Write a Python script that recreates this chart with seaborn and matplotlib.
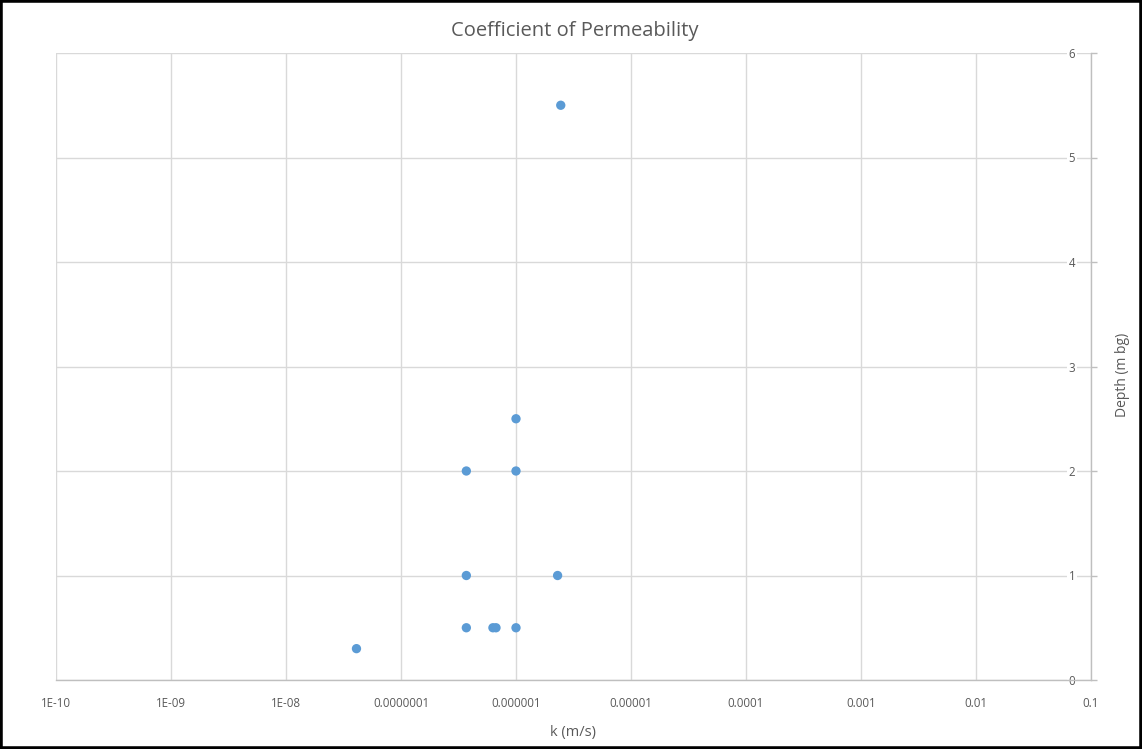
import matplotlib
matplotlib.use("Agg")
import matplotlib.pyplot as plt
import seaborn as sns
import pandas as pd
from matplotlib.patches import Rectangle
from matplotlib.ticker import FixedLocator, FixedFormatter, NullLocator

# ---- data ----
k_values = [2.45e-6, 1.0e-6, 3.7e-7, 1.0e-6, 3.7e-7, 2.3e-6, 3.7e-7, 6.3e-7, 6.7e-7, 1.0e-6, 4.1e-8]
depth_values = [5.5, 2.5, 2.0, 2.0, 1.0, 1.0, 0.5, 0.5, 0.5, 0.5, 0.3]

x_ticks = [1e-10, 1e-9, 1e-8, 1e-7, 1e-6, 1e-5, 1e-4, 1e-3, 1e-2, 1e-1]
x_tick_labels = ["1E-10", "1E-09", "1E-08", "0.0000001", "0.000001", "0.00001",
                 "0.0001", "0.001", "0.01", "0.1"]
y_ticks = [0, 1, 2, 3, 4, 5, 6]

title = "Coefficient of Permeability"
x_label = "k (m/s)"
y_label = "Depth (m bg)"

df = pd.DataFrame({"k": k_values, "depth": depth_values})

sns.set_theme(style="white")
plt.rcParams["font.family"] = ["Open Sans", "DejaVu Sans"]

text_color = "#595959"
grid_color = "#D9D9D9"
axis_color = "#BFBFBF"
point_color = "#5B9BD5"

fig = plt.figure(figsize=(11.42, 7.49), dpi=100)
ax = fig.add_axes([56 / 1142, 1 - 680 / 749, (1091 - 56) / 1142, (680 - 53) / 749])

sns.scatterplot(data=df, x="k", y="depth", ax=ax, color=point_color, s=45,
                edgecolor="none", linewidth=0, zorder=5)

ax.set_xscale("log")
ax.set_xlim(1e-10, 1e-1)
ax.set_ylim(0, 6)

ax.xaxis.set_major_locator(FixedLocator(x_ticks))
ax.xaxis.set_major_formatter(FixedFormatter(x_tick_labels))
ax.xaxis.set_minor_locator(NullLocator())
ax.yaxis.set_major_locator(FixedLocator(y_ticks))

ax.grid(True, which="major", color=grid_color, linewidth=1)
ax.set_axisbelow(True)

for side in ["top", "left"]:
    ax.spines[side].set_visible(False)
for side in ["bottom", "right"]:
    ax.spines[side].set_color(axis_color)
    ax.spines[side].set_linewidth(1)

ax.yaxis.tick_right()
ax.yaxis.set_label_position("right")
ax.tick_params(axis="x", direction="out", length=4, width=1, color=axis_color,
               labelsize=8.3, labelcolor=text_color, pad=8)
ax.tick_params(axis="y", direction="out", length=4, width=1, color=axis_color,
               labelsize=8.3, labelcolor=text_color, pad=-20)
for lab in ax.get_yticklabels():
    lab.set_bbox(dict(facecolor="white", edgecolor="none", pad=1))

ax.set_xlabel(x_label, fontsize=10.5, color=text_color)
ax.set_ylabel(y_label, fontsize=10, color=text_color, rotation=90)
ax.yaxis.set_label_coords(1.023, 0.486)
ax.xaxis.set_label_coords(0.5, -0.071)

fig.text(0.503, 1 - 31 / 749, title, ha="center", va="center", fontsize=14.5, color=text_color)

fig.patches.append(Rectangle((0, 0), 1, 1, transform=fig.transFigure, fill=False,
                             edgecolor="black", linewidth=4, zorder=10))

fig.savefig("out.png", dpi=100)
